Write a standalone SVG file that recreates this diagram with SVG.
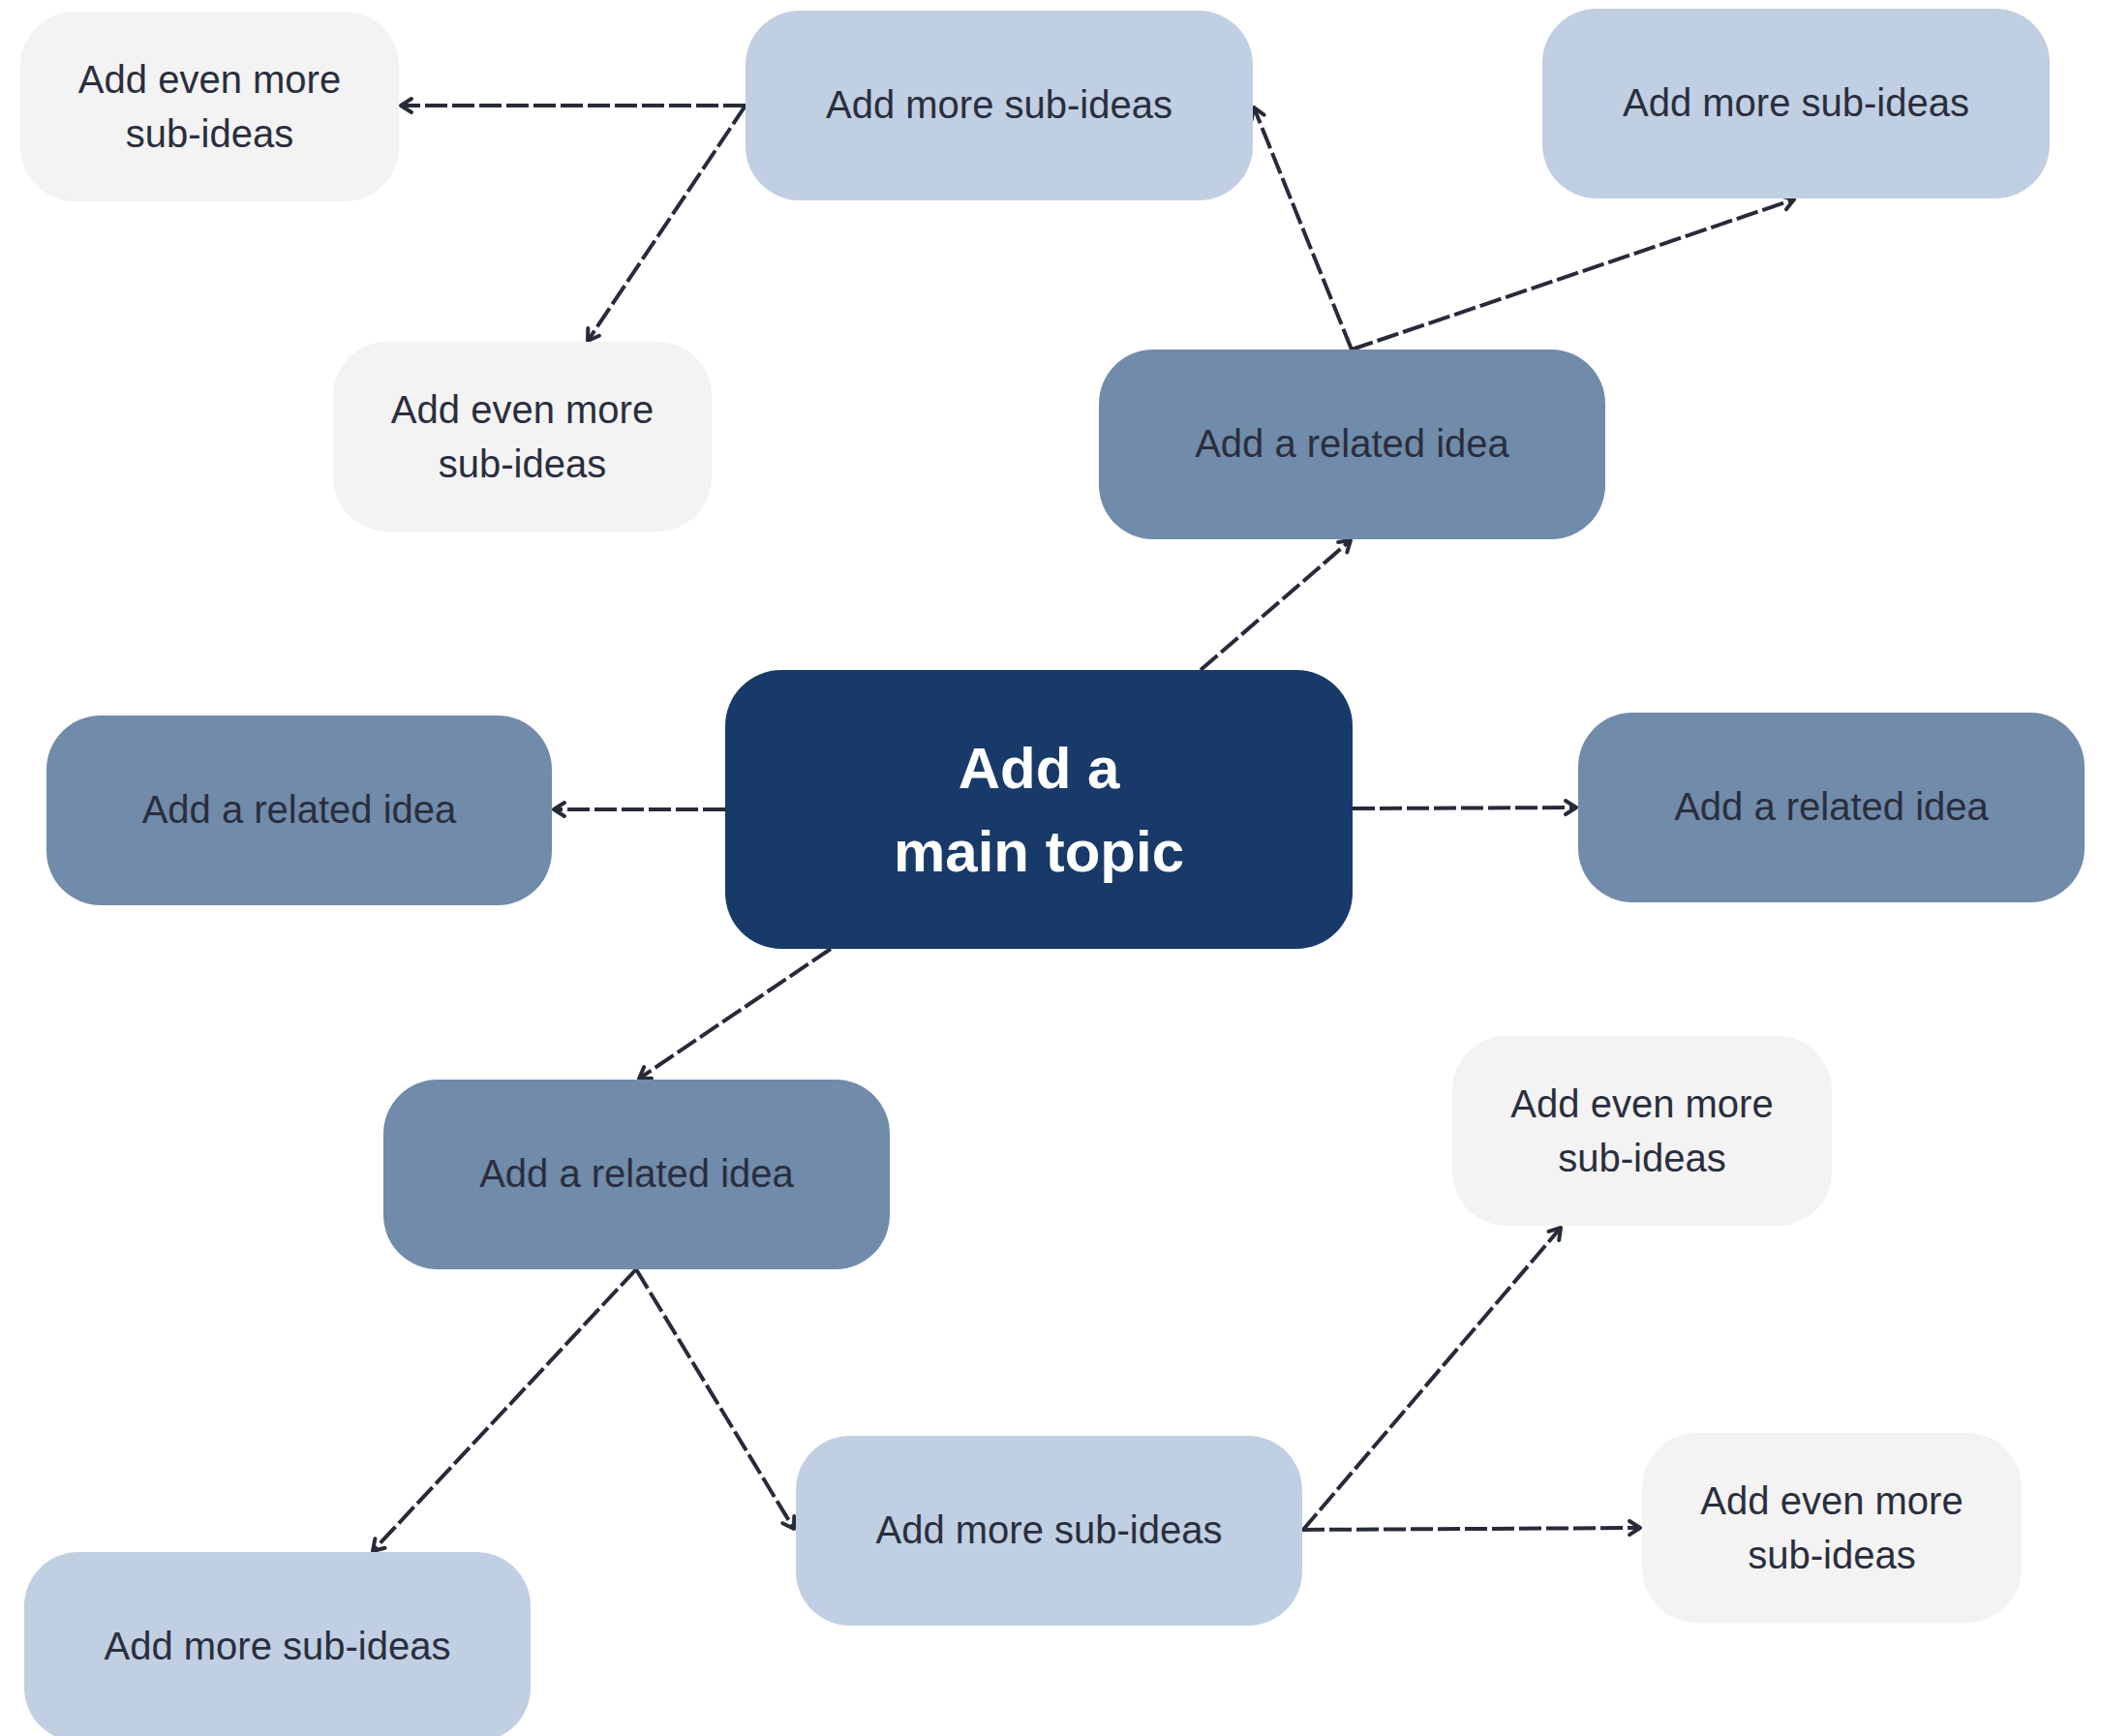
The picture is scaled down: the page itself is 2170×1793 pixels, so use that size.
<svg xmlns="http://www.w3.org/2000/svg" width="2170" height="1793" viewBox="0 0 2170 1793">
<style>
.gray{fill:#f3f3f3}
.light{fill:#c0cfe2}
.mid{fill:#718baa}
.main{fill:#183a69}
.t{font-family:"Liberation Sans",Arial,Helvetica,sans-serif;font-size:40px;fill:#2a2e3d;text-anchor:middle}
.tm{font-family:"Liberation Sans",Arial,Helvetica,sans-serif;font-size:60px;font-weight:bold;fill:#ffffff;text-anchor:middle}
.c{fill:none;stroke:#272b39;stroke-width:4;stroke-dasharray:23 5;marker-end:url(#arr)}
</style>
<defs>
<marker id="arr" markerUnits="userSpaceOnUse" markerWidth="30" markerHeight="30" viewBox="-15 -15 30 30" refX="0" refY="0" orient="auto" overflow="visible">
<path d="M-11,-7 L0,0 L-11,7" fill="none" stroke="#272b39" stroke-width="4" stroke-linecap="round" stroke-linejoin="round"/>
</marker>
</defs>
<rect width="2170" height="1793" fill="#ffffff"/>
<g id="connectors">
<path class="c" d="M1240,692 L1395,558"/>
<path class="c" d="M1396,361 L1295,111"/>
<path class="c" d="M1396,361 L1853,206"/>
<path class="c" d="M770,109 L414,109"/>
<path class="c" d="M770,109 L607,352"/>
<path class="c" d="M749,836 L572,836"/>
<path class="c" d="M1397,835 L1628,834"/>
<path class="c" d="M858,980 L660,1114"/>
<path class="c" d="M657,1311 L385,1602"/>
<path class="c" d="M657,1311 L820,1579"/>
<path class="c" d="M1345,1581 L1612,1268"/>
<path class="c" d="M1345,1580 L1694,1578"/>
</g>
<g id="main-topic">
<rect class="main" x="749" y="692" width="648" height="288" rx="58"/>
<text class="tm" x="1073" y="814">Add a</text>
<text class="tm" x="1073" y="900">main topic</text>
</g>
<g id="related-top">
<rect class="mid" x="1135" y="361" width="523" height="196" rx="56"/>
<text class="t" x="1396.5" y="472">Add a related idea</text>
</g>
<g id="related-left">
<rect class="mid" x="48" y="739" width="522" height="196" rx="56"/>
<text class="t" x="309" y="850">Add a related idea</text>
</g>
<g id="related-right">
<rect class="mid" x="1630" y="736" width="523" height="196" rx="56"/>
<text class="t" x="1891.5" y="847">Add a related idea</text>
</g>
<g id="related-bottom">
<rect class="mid" x="396" y="1115" width="523" height="196" rx="56"/>
<text class="t" x="657.5" y="1226">Add a related idea</text>
</g>
<g id="sub-top-middle">
<rect class="light" x="770" y="11" width="524" height="196" rx="56"/>
<text class="t" x="1032" y="122">Add more sub-ideas</text>
</g>
<g id="sub-top-right">
<rect class="light" x="1593" y="9" width="524" height="196" rx="56"/>
<text class="t" x="1855" y="120">Add more sub-ideas</text>
</g>
<g id="sub-bottom-middle">
<rect class="light" x="822" y="1483" width="523" height="196" rx="56"/>
<text class="t" x="1083.5" y="1594">Add more sub-ideas</text>
</g>
<g id="sub-bottom-left">
<rect class="light" x="25" y="1603" width="523" height="196" rx="56"/>
<text class="t" x="286.5" y="1714">Add more sub-ideas</text>
</g>
<g id="even-top-left">
<rect class="gray" x="21" y="12" width="391" height="196" rx="56"/>
<text class="t" x="216.5" y="96">Add even more</text>
<text class="t" x="216.5" y="152">sub-ideas</text>
</g>
<g id="even-upper-middle">
<rect class="gray" x="344" y="353" width="391" height="196" rx="56"/>
<text class="t" x="539.5" y="437">Add even more</text>
<text class="t" x="539.5" y="493">sub-ideas</text>
</g>
<g id="even-lower-right-top">
<rect class="gray" x="1500" y="1070" width="392" height="196" rx="56"/>
<text class="t" x="1696" y="1154">Add even more</text>
<text class="t" x="1696" y="1210">sub-ideas</text>
</g>
<g id="even-lower-right-bottom">
<rect class="gray" x="1696" y="1480" width="392" height="196" rx="56"/>
<text class="t" x="1892" y="1564">Add even more</text>
<text class="t" x="1892" y="1620">sub-ideas</text>
</g>
</svg>
